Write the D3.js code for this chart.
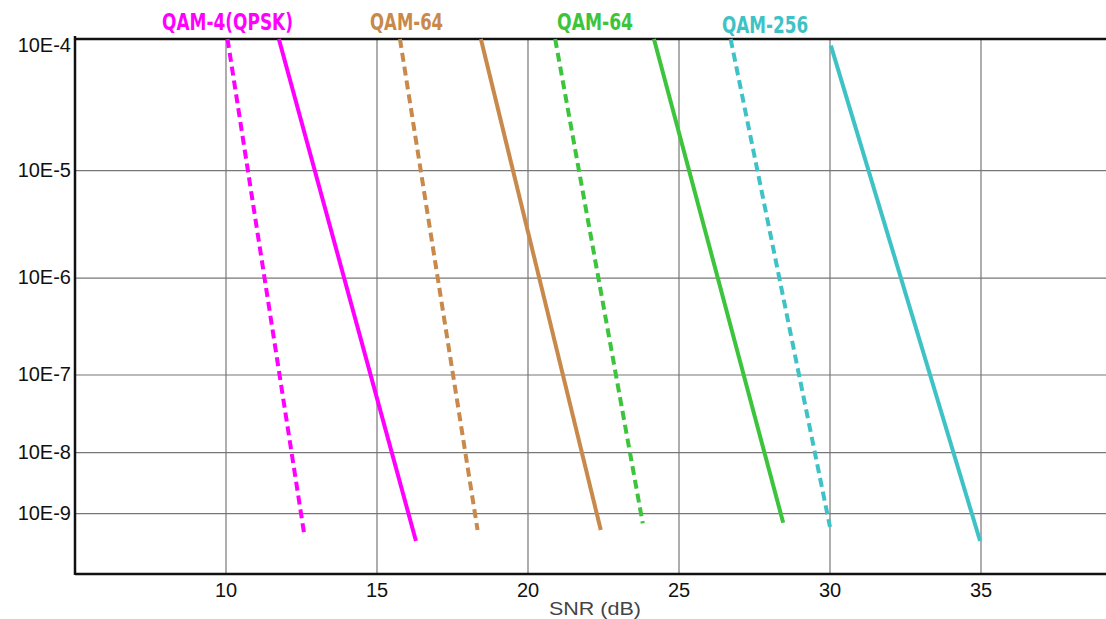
<!DOCTYPE html>
<html><head><meta charset="utf-8">
<script src="https://cdn.jsdelivr.net/npm/d3@7"></script>
<style>body{margin:0;background:#fff;} svg{display:block;}</style>
</head><body>
<svg id="c" width="1106" height="619"></svg>
<script>
// ---- data ----
const xTicks = [10, 15, 20, 25, 30, 35];
const yTickExps = [4, 5, 6, 7, 8, 9];            // label "10E-n"
const yTickLabels = ["10E-4","10E-5","10E-6","10E-7","10E-8","10E-9"];
const seriesNames = ["QAM-4(QPSK)","QAM-4(QPSK)","QAM-64","QAM-64","QAM-64","QAM-64","QAM-256","QAM-256"];
const seriesDashed = [true,false,true,false,true,false,true,false];
const seriesColors = ["#ff00ff","#ff00ff","#c8894a","#c8894a","#3cc43c","#3cc43c","#3ec2c6","#3ec2c6"];
const snrStart = [10.05, 11.75, 15.76, 18.44, 20.9, 24.17, 26.71, 30.03];
const expStart = [4, 4, 4, 4, 4, 4, 4, 4.05];
const snrEnd   = [12.6, 16.29, 18.33, 22.41, 23.8, 28.45, 30.0, 34.97];
const expEnd   = [9.37, 9.45, 9.27, 9.27, 9.16, 9.15, 9.22, 9.45];
const labelNames = ["QAM-4(QPSK)","QAM-64","QAM-64","QAM-256"];
const labelColors = ["#ff00ff","#c8894a","#3cc43c","#3ec2c6"];
const labelSnr = [10.05, 15.98, 22.22, 27.85];

// ---- layout ----
const svg = d3.select("#c");
const L = 75, T = 39, B = 574, R = 1106;
const H = B - T;
const x = d3.scaleLinear().domain([5, 40]).range([L, L + 35 * 30.2]);
// non-uniform BER axis as printed in the original
const y = d3.scaleLinear().domain(yTickExps)
  .range([0, 0.246, 0.447, 0.628, 0.773, 0.887].map(f => T + f * H));

const font = "'Liberation Sans', Arial, sans-serif";

// grid
const g = svg.append("g");
g.selectAll(".vg").data(xTicks).join("line")
  .attr("x1", d => x(d)).attr("x2", d => x(d)).attr("y1", T).attr("y2", B)
  .attr("stroke", "#777").attr("stroke-width", 1.2);
g.selectAll(".hg").data(yTickExps.slice(1)).join("line")
  .attr("x1", L).attr("x2", R).attr("y1", d => y(d)).attr("y2", d => y(d))
  .attr("stroke", "#777").attr("stroke-width", 1.2);

// frame
svg.append("line").attr("x1", L).attr("x2", R).attr("y1", T).attr("y2", T)
  .attr("stroke", "#111").attr("stroke-width", 2.5);
svg.append("line").attr("x1", L).attr("x2", R).attr("y1", B).attr("y2", B)
  .attr("stroke", "#111").attr("stroke-width", 2.5);
svg.append("line").attr("x1", L).attr("x2", L).attr("y1", T - 3).attr("y2", B + 1)
  .attr("stroke", "#111").attr("stroke-width", 2.5);

// y labels
svg.selectAll(".yl").data(yTickExps).join("text")
  .attr("x", 71).attr("y", (d, i) => i === 0 ? y(d) + 13 : y(d) + 6)
  .attr("text-anchor", "end").attr("font-family", font).attr("font-size", 20)
  .attr("fill", "#111").text((d, i) => yTickLabels[i]);

// x labels
svg.selectAll(".xl").data(xTicks).join("text")
  .attr("x", d => x(d)).attr("y", 597)
  .attr("text-anchor", "middle").attr("font-family", font).attr("font-size", 20)
  .attr("fill", "#111").text(d => d);

svg.append("text").attr("x", 595).attr("y", 615).attr("text-anchor", "middle")
  .attr("font-family", font).attr("font-size", 18).attr("fill", "#444")
  .attr("textLength", 92).attr("lengthAdjust", "spacingAndGlyphs").text("SNR (dB)");

// series lines
const line = d3.line().x(d => x(d[0])).y(d => y(d[1]));
seriesNames.forEach((n, i) => {
  svg.append("path")
    .attr("d", line([[snrStart[i], expStart[i]], [snrEnd[i], expEnd[i]]]))
    .attr("fill", "none").attr("stroke", seriesColors[i]).attr("stroke-width", 4)
    .attr("stroke-dasharray", seriesDashed[i] ? "9,5" : null);
});

// series labels
const labelW = [131, 73, 76, 86];
svg.selectAll(".sl").data(labelNames).join("text")
  .attr("x", (d, i) => x(labelSnr[i])).attr("y", (d, i) => i === 3 ? 33 : 30)
  .attr("text-anchor", "middle").attr("font-family", "'DejaVu Sans', sans-serif")
  .attr("font-weight", "bold").attr("font-size", 23)
  .attr("textLength", (d, i) => labelW[i]).attr("lengthAdjust", "spacingAndGlyphs")
  .attr("fill", (d, i) => labelColors[i]).text(d => d);
</script>
</body></html>
